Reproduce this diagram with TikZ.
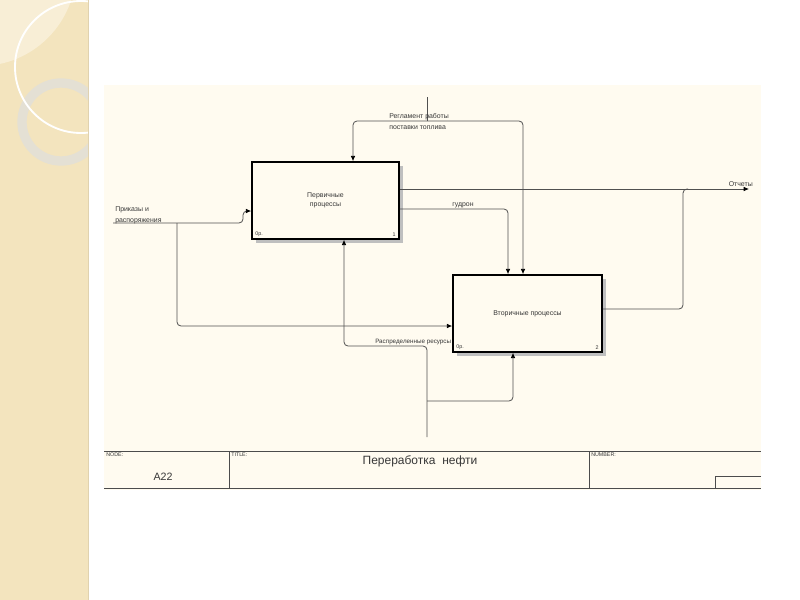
\documentclass[tikz,border=0pt]{standalone}
\usepackage{fontspec}
\setmainfont{Liberation Sans}
\usetikzlibrary{arrows.meta,positioning,calc,shadows}
\definecolor{paper}{RGB}{255,251,240}
\definecolor{strip}{RGB}{243,228,190}
\definecolor{patch}{RGB}{248,238,214}
\definecolor{ringcol}{RGB}{228,224,212}
\definecolor{wirecol}{RGB}{80,80,80}
\definecolor{ink}{RGB}{55,55,55}
\tikzset{
  actbox/.style={rectangle, draw=black, line width=1.2pt, fill=paper,
                 minimum height=57.75pt, inner sep=0pt, align=center,
                 font=\fontsize{5.2}{7}\selectfont, text=ink,
                 drop shadow={shadow xshift=3pt, shadow yshift=-3pt,
                              fill=gray!50, opacity=1}},
  lbl/.style={font=\fontsize{5.2}{8.2}\selectfont, text=ink, inner sep=0pt},
  tiny/.style={font=\fontsize{4}{5}\selectfont, text=ink, inner sep=0pt},
  pipe/.style={wirecol, line width=0.6pt, rounded corners=3pt},
  arr/.style={pipe, -{Latex[length=4pt,width=3.5pt,color=black]}},
  frame/.style={gray!60!black, line width=0.6pt},
}
\begin{document}
\begin{tikzpicture}[x=0.75pt,y=-0.75pt]
  \useasboundingbox (0,0) rectangle (800,600);
  % slide
  \fill[white] (0,0) rectangle (800,600);
  \fill[strip] (0,0) rectangle (88,600);
  \begin{scope}
    \clip (0,0) rectangle (88,600);
    \fill[patch] (-20,-30) circle (96);
    \draw[ringcol, line width=7pt] (61,122) circle (39);
    \draw[white, line width=1.4pt] (81,67) circle (66);
  \end{scope}
  \draw[strip!92!black] (88,0) -- (88,600);
  \fill[paper] (104,85) rectangle (761,490);

  % boxes
  \node[actbox, minimum width=110.25pt] (perv) at (325.5,200.5)
    {Первичные\\процессы};
  \node[actbox, minimum width=111.75pt] (vtor) at (527.5,313.5)
    {Вторичные процессы};
  \node[tiny, anchor=south west] at ([shift={(4,-3)}]perv.south west) {0р.};
  \node[tiny, anchor=south east] at ([shift={(-4,-3)}]perv.south east) {1};
  \node[tiny, anchor=south west] at ([shift={(4,-3)}]vtor.south west) {0р.};
  \node[tiny, anchor=south east] at ([shift={(-4,-3)}]vtor.south east) {2};

  % control
  \coordinate (regin) at (427,97);
  \coordinate (regj) at (427,121);
  \coordinate (xa) at (353,0);
  \coordinate (xb) at (523,0);
  \draw[pipe] (regin) -- (regj);
  \draw[arr] (regj) -| (perv.north -| xa);
  \draw[arr] (regj) -| (vtor.north -| xb);
  \node[lbl, anchor=west, align=left] (reglbl) at (389,121.5)
    {Регламент работы\\поставки топлива};

  % outputs
  \coordinate (otch) at (749,189);
  \coordinate (vj) at (683,189);
  \coordinate (vo) at (0,309);
  \draw[arr] (perv.east |- otch) -- (otch);
  \draw[pipe] (vtor.east |- vo) -| (vj) -- ++(5,0);
  \node[lbl, anchor=south east] (otchlbl) at (753,187) {Отчеты};
  \coordinate (yg) at (0,209);
  \coordinate (xg) at (508,0);
  \draw[arr] (perv.east |- yg) -| (vtor.north -| xg);
  \node[lbl, anchor=south] (gudlbl) at (463,208) {гудрон};

  % input
  \coordinate (prin) at (113,223);
  \coordinate (pk) at (243,211);
  \coordinate (pb) at (177,223);
  \coordinate (yin) at (0,326);
  \draw[arr] (prin) -| (pk) -- (perv.west |- pk);
  \draw[arr] (pb) |- (vtor.west |- yin);
  \node[lbl, anchor=west, align=left] (prilbl) at (115,215.5)
    {Приказы и\\распоряжения};

  % mechanism
  \coordinate (resin) at (427,437);
  \coordinate (resk) at (344,346);
  \coordinate (resb) at (427,401);
  \coordinate (xm) at (513,0);
  \draw[arr] (resin) |- (resk) -- (perv.south -| resk);
  \draw[arr] (resb) -| (vtor.south -| xm);
  \node[lbl, font=\fontsize{4.7}{6}\selectfont, anchor=south west] (reslbl)
    at (375,345) {Распределенные ресурсы};

  % footer
  \draw[frame] (104,451) -- (761,451);
  \draw[frame] (104,488) -- (761,488);
  \draw[frame] (229,451) -- (229,488);
  \draw[frame] (589,451) -- (589,488);
  \draw[frame] (761,476) -- (715,476) -- (715,488);
  \node[tiny, anchor=north west] (nodehd) at (106,453) {NODE:};
  \node[font=\fontsize{8}{9}\selectfont, text=ink] (nodeid) at (163,477) {A22};
  \node[tiny, anchor=north west] (titlehd) at (231,453) {TITLE:};
  \node[font=\fontsize{9}{10}\selectfont, text=ink] (title) at (420,461)
    {Переработка\ \ нефти};
  \node[tiny, anchor=north west] (numhd) at (591,453) {NUMBER:};
\end{tikzpicture}
\end{document}
